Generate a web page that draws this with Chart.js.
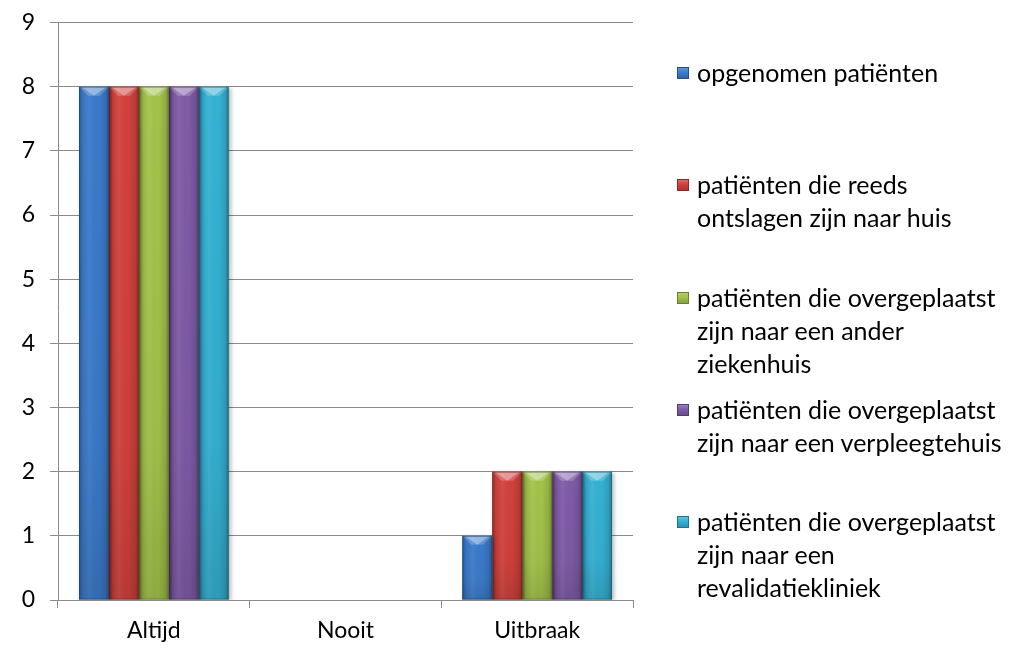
<!DOCTYPE html>
<html>
<head>
<meta charset="utf-8">
<script src="https://cdn.jsdelivr.net/npm/chart.js@4.4.1/dist/chart.umd.min.js"></script>
<style>
  html, body { margin: 0; padding: 0; background: #ffffff; }
  #wrap { position: relative; width: 1013px; height: 649px; }
  #c { position: absolute; left: 0; top: 0; }
  #legend { position: absolute; left: 677px; top: 56px; font-family: "Lato", "Open Sans", sans-serif; font-size: 25px; color: #000; }
  .item { position: relative; height: 112.3px; padding-left: 20px; }
  .item .sw { position: absolute; left: 0; top: 11px; width: 12px; height: 12px; }
  .item .tx { line-height: 33px; white-space: nowrap; }
</style>
</head>
<body>
<div id="wrap">
  <canvas id="c" width="1013" height="649"></canvas>
  <div id="legend"></div>
</div>
<script>
// ---- data ----
const categories = ['Altijd', 'Nooit', 'Uitbraak'];
const opgenomen = [8, 0, 1];
const ontslagenNaarHuis = [8, 0, 2];
const naarAnderZiekenhuis = [8, 0, 2];
const naarVerpleegtehuis = [8, 0, 2];
const naarRevalidatiekliniek = [8, 0, 2];
const yTicks = [0, 1, 2, 3, 4, 5, 6, 7, 8, 9];
const seriesLabels = [
  ['opgenomen patiënten'],
  ['patiënten die reeds', 'ontslagen zijn naar huis'],
  ['patiënten die overgeplaatst', 'zijn naar een ander', 'ziekenhuis'],
  ['patiënten die overgeplaatst', 'zijn naar een verpleegtehuis'],
  ['patiënten die overgeplaatst', 'zijn naar een', 'revalidatiekliniek']
];
const seriesValues = [opgenomen, ontslagenNaarHuis, naarAnderZiekenhuis, naarVerpleegtehuis, naarRevalidatiekliniek];
const seriesColors = ['#3b7bcb', '#d2413c', '#a2c34a', '#805ba8', '#34b1d3'];

const AXIS_FONT = { family: 'Lato, "Open Sans", sans-serif', size: 23 };
const GRID = '#8a8a8a';

function shade(hex, f) {
  const n = parseInt(hex.slice(1), 16);
  let r = (n >> 16) & 255, g = (n >> 8) & 255, b = n & 255;
  if (f < 0) { r *= (1 + f); g *= (1 + f); b *= (1 + f); }
  else { r += (255 - r) * f; g += (255 - g) * f; b += (255 - b) * f; }
  return 'rgb(' + Math.round(r) + ',' + Math.round(g) + ',' + Math.round(b) + ')';
}

// bevel / cylinder shading drawn over bars using library geometry
const bevelPlugin = {
  id: 'bevel',
  beforeDatasetDraw(chart) {
    const ctx = chart.ctx;
    ctx.save();
    ctx.shadowColor = 'rgba(0,0,0,0.28)';
    ctx.shadowBlur = 4;
    ctx.shadowOffsetX = 2;
    ctx.shadowOffsetY = 1;
  },
  afterDatasetDraw(chart, args) {
    const ctx = chart.ctx;
    ctx.restore();
    const meta = args.meta;
    const base = seriesColors[args.index];
    meta.data.forEach(bar => {
      const p = bar.getProps(['x', 'y', 'base', 'width'], true);
      const x0 = p.x - p.width / 2, x1 = p.x + p.width / 2;
      const top = Math.min(p.y, p.base), bot = Math.max(p.y, p.base);
      const h = bot - top;
      if (h < 1) return;
      ctx.save();
      const g = ctx.createLinearGradient(x0, 0, x1, 0);
      g.addColorStop(0, 'rgba(0,0,0,0.30)');
      g.addColorStop(0.12, 'rgba(0,0,0,0.06)');
      g.addColorStop(0.35, 'rgba(255,255,255,0.06)');
      g.addColorStop(0.65, 'rgba(0,0,0,0)');
      g.addColorStop(0.88, 'rgba(0,0,0,0.10)');
      g.addColorStop(1, 'rgba(0,0,0,0.32)');
      ctx.fillStyle = g;
      ctx.fillRect(x0, top, x1 - x0, h);
      const gv = ctx.createLinearGradient(0, top, 0, bot);
      gv.addColorStop(0, 'rgba(0,0,0,0)');
      gv.addColorStop(0.7, 'rgba(0,0,0,0.03)');
      gv.addColorStop(1, 'rgba(0,0,0,0.12)');
      ctx.fillStyle = gv;
      ctx.fillRect(x0, top, x1 - x0, h);
      const bv = Math.min(9, h / 2);
      ctx.fillStyle = 'rgba(255,255,255,0.20)';
      ctx.beginPath();
      ctx.moveTo(x0, top); ctx.lineTo(x1, top); ctx.lineTo(x1 - bv, top + bv); ctx.lineTo(x0 + bv, top + bv); ctx.closePath();
      ctx.fill();
      ctx.fillStyle = 'rgba(255,255,255,0.32)';
      ctx.beginPath();
      ctx.moveTo(x0 + 2, top); ctx.lineTo(x1 - 2, top); ctx.lineTo(p.x, top + bv); ctx.closePath();
      ctx.fill();
      ctx.strokeStyle = shade(base, -0.45);
      ctx.globalAlpha = 0.6;
      ctx.lineWidth = 1;
      ctx.strokeRect(x0 + 0.5, top + 0.5, x1 - x0 - 1, h - 1);
      ctx.restore();
    });
  }
};

const datasets = seriesValues.map((vals, i) => ({
  label: seriesLabels[i].join(' '),
  data: vals,
  backgroundColor: seriesColors[i],
  borderWidth: 0,
  barPercentage: 1.0,
  categoryPercentage: 0.781
}));

const chart = new Chart(document.getElementById('c'), {
  type: 'bar',
  data: { labels: categories, datasets },
  plugins: [bevelPlugin],
  options: {
    responsive: false,
    animation: false,
    events: [],
    layout: { padding: { left: 0, right: 380, top: 22.5, bottom: 0 } },
    plugins: { legend: { display: false }, tooltip: { enabled: false } },
    scales: {
      x: {
        offset: true,
        grid: { offset: true, drawOnChartArea: false, drawTicks: true, tickLength: 8, color: GRID },
        border: { display: true, color: GRID, width: 1 },
        ticks: { color: '#000', font: AXIS_FONT, padding: 9 },
        afterFit(s) { s.height = 49; s.paddingLeft = 0; s.paddingRight = 0; }
      },
      y: {
        min: 0, max: 9,
        afterBuildTicks(s) { s.ticks = yTicks.map(v => ({ value: v })); },
        grid: { color: GRID, lineWidth: 1, tickLength: 8, drawTicks: true },
        border: { display: true, color: GRID, width: 1 },
        ticks: { color: '#000', font: AXIS_FONT, padding: 15 },
        afterFit(s) { s.width = 58; s.paddingTop = 0; s.paddingBottom = 0; }
      }
    }
  }
});

// legend (HTML text), built from the series arrays
const lg = document.getElementById('legend');
seriesLabels.forEach((lines, i) => {
  const it = document.createElement('div');
  it.className = 'item';
  const sw = document.createElement('div');
  sw.className = 'sw';
  const c = seriesColors[i];
  sw.style.background = 'linear-gradient(to bottom, ' + shade(c, 0.25) + ' 0%, ' + c + ' 45%, ' + shade(c, -0.2) + ' 100%)';
  sw.style.boxShadow = 'inset 0 0 0 1px ' + shade(c, -0.35);
  const tx = document.createElement('div');
  tx.className = 'tx';
  tx.innerHTML = lines.map(l => l.replace(/&/g, '&amp;')).join('<br>');
  it.appendChild(sw);
  it.appendChild(tx);
  lg.appendChild(it);
});
</script>
</body>
</html>
